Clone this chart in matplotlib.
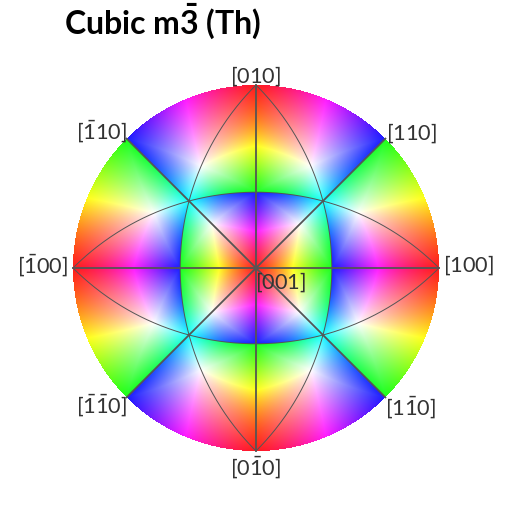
import numpy as np
import matplotlib
matplotlib.use('Agg')
import matplotlib.pyplot as plt

plt.rcParams['font.family'] = ['Lato', 'DejaVu Sans']
plt.rcParams['mathtext.default'] = 'regular'

# colour key: corners of the fundamental sector and the hue read at each
key_dirs = [(0, 0, 1), (1, 0, 2.414), (1, 0, 1), (1, 1, 1), (0, 1, 1), (0, 1, 2.414)]
key_hues = [0.0, 1 / 6, 1 / 3, 1 / 2, 2 / 3, 5 / 6]
edge_normals = [(0, 1, 0), (1, 0, -1), (0, 1, -1), (1, 0, 0)]
sector_center = (0.4292, 0.4292, 0.7948)
min_lightness = 0.55
falloff = 1.0

# mirror planes drawn as lines (plane normals)
plane_normals = [(1, 0, 0), (0, 1, 0), (1, 1, 0), (1, -1, 0)]
arc_normals = [(1, 0, -1), (-1, 0, -1), (0, 1, -1), (0, -1, -1)]

# axis labels
label_dirs = [(0, 1, 0), (1, 1, 0), (1, 0, 0), (1, -1, 0), (0, -1, 0),
              (-1, -1, 0), (-1, 0, 0), (-1, 1, 0), (0, 0, 1)]
label_offsets = [(0, 192), (156, 135), (213, 3), (155, -139), (0, -199),
                 (-154, -137), (-213, 3), (-154, 137), (25, -14)]

line_color = '#555555'
text_color = '#333333'


def unit(v):
    v = np.asarray(v, dtype=float)
    return v / np.linalg.norm(v, axis=-1, keepdims=True)


def label_text(d):
    s = ''
    for c in d:
        s += r'\bar{%d}' % -c if c < 0 else str(c)
    return '$[' + s + ']$'


def fold(v):
    # m-3: mirrors on x, y, z and the threefold axis along [111]
    x, y, z = np.abs(v[..., 0]), np.abs(v[..., 1]), np.abs(v[..., 2])
    max_x = (x >= y) & (x >= z)
    max_y = (y > x) & (y >= z)
    fx = np.where(max_x, y, np.where(max_y, z, x))
    fy = np.where(max_x, z, np.where(max_y, x, y))
    fz = np.where(max_x, x, np.where(max_y, y, z))
    return np.stack([fx, fy, fz], axis=-1)


def hls_rgb(h, l):
    a = np.minimum(l, 1 - l)
    out = []
    for n in (0, 8, 4):
        k = (n + h * 12) % 12
        out.append(l - a * np.maximum(-1, np.minimum(np.minimum(k - 3, 9 - k), 1)))
    return np.stack(out, axis=-1)


def key_colors(v):
    c = unit(sector_center)
    e1 = unit(np.array([0, 0, 1.0]) - c * c[2])
    e2 = np.cross(c, e1)

    def azimuth(p):
        return np.mod(np.arctan2(p @ e2, p @ e1), 2 * np.pi)

    anchors = azimuth(unit(np.array(key_dirs, dtype=float)))
    if anchors[1] > np.pi:
        anchors = np.mod(-anchors, 2 * np.pi)
        sign = -1
    else:
        sign = 1
    az = np.mod(sign * np.arctan2(v @ e2, v @ e1), 2 * np.pi)
    hue = np.interp(az, np.r_[anchors, 2 * np.pi], np.r_[key_hues, 1.0])

    # fraction of the way from the sector centre to its boundary
    cos_t = np.clip(v @ c, -1, 1)
    ang = np.arccos(cos_t)
    u = v - cos_t[..., None] * c
    u = u / np.maximum(np.linalg.norm(u, axis=-1, keepdims=True), 1e-9)
    edge = np.full(ang.shape, np.pi)
    for n in edge_normals:
        n = unit(n)
        with np.errstate(divide='ignore', invalid='ignore'):
            t = np.arctan2(-(c @ n) * np.ones(ang.shape), u @ n)
        t = np.where(t <= 0, t + np.pi, t)
        edge = np.minimum(edge, t)
    rho = np.clip(ang / edge, 0, 1)
    return hls_rgb(hue, 1 - (1 - min_lightness) * rho ** falloff)


def stereo(v):
    v = unit(v)
    return v[..., 0] / (1 + v[..., 2]), v[..., 1] / (1 + v[..., 2])


def plane_path(n):
    # upper hemisphere half of the great circle with normal n
    n = unit(n)
    a = unit(np.cross(n, [0, 0, 1.0]))
    b = np.cross(n, a)
    if b[2] < 0:
        b = -b
    t = np.linspace(0, np.pi, 300)
    return stereo(np.outer(np.cos(t), a) + np.outer(np.sin(t), b))


fig = plt.figure(figsize=(5.12, 5.12), dpi=100)
ax = fig.add_axes([73 / 512, 61 / 512, 366 / 512, 366 / 512])
ax.set_xlim(-1, 1)
ax.set_ylim(-1, 1)
ax.set_aspect('equal')
ax.axis('off')

size = 366
px = (np.arange(size) + 0.5) / size * 2 - 1
X, Y = np.meshgrid(px, px)
R2 = X ** 2 + Y ** 2
vec = np.stack([2 * X, 2 * Y, 1 - R2], axis=-1) / (1 + R2)[..., None]
rgb = key_colors(fold(vec))
alpha = (R2 <= 1).astype(float)
ax.imshow(np.dstack([rgb, alpha]), extent=(-1, 1, -1, 1), origin='lower',
          interpolation='nearest', zorder=1)

for n in plane_normals:
    x, y = plane_path(n)
    ax.plot(x, y, color=line_color, lw=1.3, zorder=3, clip_on=False)
for n in arc_normals:
    x, y = plane_path(n)
    ax.plot(x, y, color=line_color, lw=0.7, zorder=3, clip_on=False)

for d, off in zip(label_dirs, label_offsets):
    ax.annotate(label_text(d), xy=(0, 0), xytext=(off[0] * 0.72, off[1] * 0.72),
                textcoords='offset points', ha='center', va='center',
                fontsize=15.7, color=text_color, zorder=5, annotation_clip=False)

fig.text(64 / 512, 1 - 21 / 512, r'Cubic m$\bar{3}$ (Th)', fontsize=23,
         fontweight='bold', color='black', ha='left', va='center')

fig.savefig('out.png', dpi=100)
